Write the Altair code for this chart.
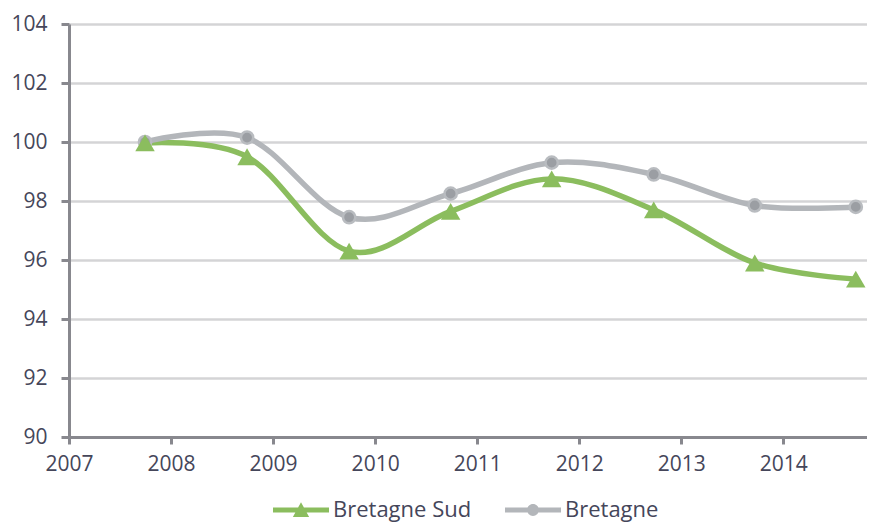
import altair as alt
import pandas as pd

years = [2007.745, 2008.745, 2009.745, 2010.74, 2011.73, 2012.73, 2013.72, 2014.71]
sud = [99.97, 99.5, 96.3, 97.65, 98.75, 97.7, 95.9, 95.35]
bretagne = [100.0, 100.15, 97.45, 98.25, 99.3, 98.9, 97.85, 97.8]
series = ["Bretagne Sud", "Bretagne"]
colors = ["#8bbd5e", "#b3b6ba"]
tick_years = [2007, 2008, 2009, 2010, 2011, 2012, 2013, 2014]

rows = []
for x, a, b in zip(years, sud, bretagne):
    rows.append({"x": x, "v": a, "s": series[0]})
    rows.append({"x": x, "v": b, "s": series[1]})
df = pd.DataFrame(rows)

FONT = "Open Sans"
TXT = "#45465a"

xenc = alt.X("x:Q", scale=alt.Scale(domain=[2007, 2014.82], nice=False, zero=False),
             axis=alt.Axis(values=tick_years, format="d", title=None, grid=False,
                           labelFontSize=21, labelFont=FONT, labelColor=TXT,
                           labelPadding=9, tickSize=7, tickWidth=3, tickColor="#88888e",
                           domainColor="#88888e", domainWidth=3, labelFlush=False))
yenc = alt.Y("v:Q", scale=alt.Scale(domain=[90, 104], nice=False, zero=False),
             axis=alt.Axis(values=list(range(90, 105, 2)), title=None, grid=True,
                           gridColor="#d4d4d6", gridWidth=2.5,
                           labelFontSize=21, labelFont=FONT, labelColor=TXT,
                           labelPadding=14, tickSize=8, tickWidth=3, tickColor="#88888e",
                           domainColor="#88888e", domainWidth=3))

cscale = alt.Scale(domain=series, range=colors)

base = alt.Chart(df)

lines = base.mark_line(interpolate="cardinal", strokeWidth=5.5).encode(
    x=xenc, y=yenc,
    color=alt.Color("s:N", scale=cscale, legend=None),
    detail="s:N",
)

tri = base.transform_filter(alt.datum.s == series[0]).mark_point(
    shape="triangle-up", filled=True, size=380, opacity=1, color=colors[0]
).encode(x=xenc, y=yenc)

circ = base.transform_filter(alt.datum.s == series[1]).mark_point(
    shape="circle", filled=True, size=150, opacity=1, color="#9b9ea3",
    stroke="#b9bcc0", strokeWidth=2.5
).encode(x=xenc, y=yenc)

tri_path = "M-2,-0.18H2V0.18H-2Z M0,-0.56L0.58,0.5L-0.58,0.5Z"
circ_path = ("M-2,-0.18H2V0.18H-2Z M0.42,0A0.42,0.42 0 1,1 -0.42,0"
             "A0.42,0.42 0 1,1 0.42,0Z")

legend_layer = base.transform_filter(alt.datum.v < 0).mark_point(filled=True, opacity=1).encode(
    x=xenc, y=yenc,
    shape=alt.Shape("s:N", scale=alt.Scale(domain=series, range=[tri_path, circ_path]),
                    legend=alt.Legend(orient="none", direction="horizontal", title=None,
                                      legendX=218, legendY=472, symbolSize=784,
                                      symbolStrokeWidth=0, symbolOpacity=1,
                                      labelFontSize=22, labelFont=FONT, labelColor=TXT,
                                      labelOffset=18, columnPadding=33, padding=0)),
    fill=alt.Fill("s:N", scale=alt.Scale(domain=series, range=colors), legend=None),
)

chart = alt.layer(lines, circ, tri, legend_layer).resolve_scale(
    shape="independent", fill="independent"
).properties(
    width=798, height=413,
    autosize=alt.AutoSizeParams(type="none"),
    padding={"left": 61, "top": 16, "right": 0, "bottom": 85},
).configure_view(stroke=None).configure_axis(labelFontWeight="normal")

chart.save("out.html", embed_options={"renderer": "svg", "actions": False})
